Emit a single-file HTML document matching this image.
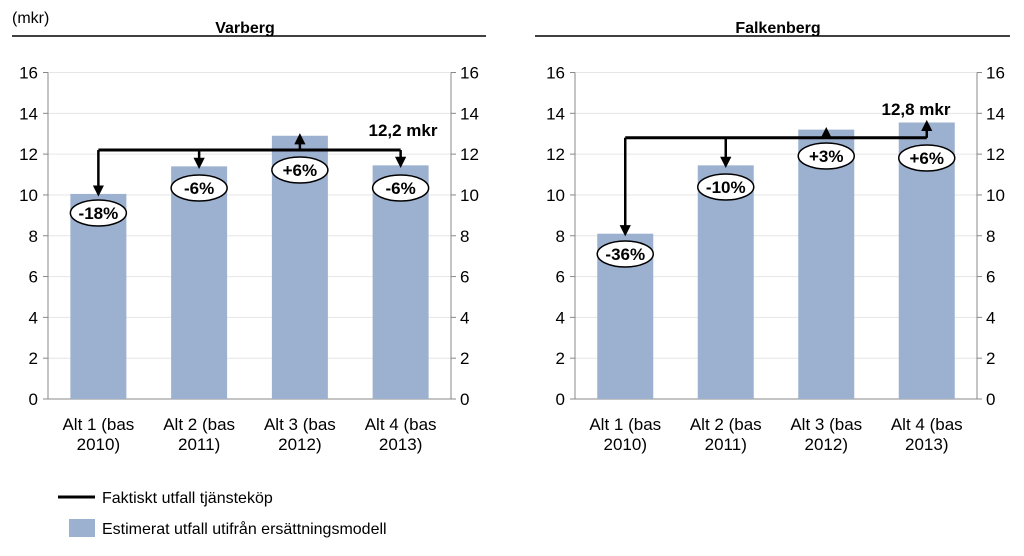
<!DOCTYPE html>
<html><head><meta charset="utf-8"><style>
body{margin:0;background:#fff;width:1024px;height:551px;overflow:hidden}
svg text{font-family:"Liberation Sans",Arial,sans-serif}
</style></head><body>
<svg id="c" width="1024" height="551" xmlns="http://www.w3.org/2000/svg">
<defs><marker id="ah" viewBox="0 0 10 10" refX="5" refY="5" markerWidth="4.5" markerHeight="4.5" orient="auto"><path d="M0,0L10,5L0,10z" fill="#000"/></marker></defs>
<text x="12" y="23" font-size="16">(mkr)</text>
<g id="legend">
<line x1="58" y1="497" x2="95" y2="497" stroke="#000" stroke-width="3"/>
<text x="102" y="503" font-size="16">Faktiskt utfall tjänsteköp</text>
<rect x="69" y="519" width="26" height="18" fill="#9cb0cf"/>
<text x="102" y="534" font-size="16">Estimerat utfall utifrån ersättningsmodell</text>
</g>
</svg>
<script>
const categories=[["Alt 1 (bas","2010)"],["Alt 2 (bas","2011)"],["Alt 3 (bas","2012)"],["Alt 4 (bas","2013)"]];
const ticks=[0,2,4,6,8,10,12,14,16];
const varbergValues=[10.05,11.4,12.9,11.45];
const varbergActual=12.2;
const varbergLabels=["-18%","-6%","+6%","-6%"];
const falkValues=[8.1,11.45,13.2,13.55];
const falkActual=12.8;
const falkLabels=["-36%","-10%","+3%","+6%"];
const NS="http://www.w3.org/2000/svg";
const svg=document.getElementById('c');
function mk(t,a,p){const e=document.createElementNS(NS,t);for(const k in a)e.setAttribute(k,a[k]);(p||svg).appendChild(e);return e;}
function chart(name,x0,x1,lineX0,lineX1,titleX,values,actual,labels,actualLabel,alX,alY,labelYs){
  const y0=399,yTop=72.5,max=16;
  const y=v=>y0-(v/max)*(y0-yTop);
  const bw=(x1-x0)/values.length;
  const cx=i=>x0+bw*(i+0.5);
  const g=mk('g',{});
  
  
  let e=mk('line',{x1:lineX0,x2:lineX1,y1:36,y2:36,stroke:'#000','stroke-width':1.5},g);
  
  e=mk('text',{x:titleX,y:33,'font-size':16,'font-weight':'bold','text-anchor':'middle'},g);e.textContent=name==='varberg'?'Varberg':'Falkenberg';
  
  ticks.forEach(t=>{
    const gl=mk('line',{x1:x0,x2:x1,y1:y(t),y2:y(t),stroke:'#e6e6e6'},g);
    
    const tl=mk('text',{x:x0-10,y:y(t)+6,'font-size':17,'text-anchor':'end'},g);tl.textContent=t;
    
    const tr=mk('text',{x:x1+9,y:y(t)+6,'font-size':17},g);tr.textContent=t;
    
    mk('line',{x1:x0-5,x2:x0,y1:y(t),y2:y(t),stroke:'#888'},g);
    mk('line',{x1:x1,x2:x1+5,y1:y(t),y2:y(t),stroke:'#888'},g);
  });
  mk('line',{x1:x0,x2:x0,y1:yTop,y2:y0,stroke:'#888'},g);
  mk('line',{x1:x1,x2:x1,y1:yTop,y2:y0,stroke:'#888'},g);
  mk('line',{x1:x0,x2:x1,y1:y0,y2:y0,stroke:'#888'},g);
  values.forEach((v,i)=>{
    const b=mk('rect',{x:cx(i)-28,y:y(v),width:56,height:y0-y(v),fill:'#9cb0cf'},g);
    
    categories[i].forEach((s,j)=>{const t=mk('text',{x:cx(i),y:430+j*20,'font-size':17,'text-anchor':'middle'},g);t.textContent=s;
      });
  });
  const ya=y(actual);
  e=mk('line',{x1:cx(0),x2:cx(3),y1:ya,y2:ya,stroke:'#000','stroke-width':3},g);
  
  values.forEach((v,i)=>{
    const dir=v>actual?-1:1;
    const a=mk('line',{x1:cx(i),x2:cx(i),y1:ya,y2:y(v)-dir*3,stroke:'#000','stroke-width':2.5,'marker-end':'url(#ah)'},g);
    
    const ly=labelYs[i];
    const el=mk('ellipse',{cx:cx(i),cy:ly,rx:28,ry:13,fill:'#fff',stroke:'#000','stroke-width':1.5},g);
    
    const t=mk('text',{x:cx(i),y:ly+6,'font-size':17,'font-weight':'bold','text-anchor':'middle'},g);t.textContent=labels[i];
    
  });
  e=mk('text',{x:alX,y:alY,'font-size':17,'font-weight':'bold','text-anchor':'middle'},g);e.textContent=actualLabel;
  
}
chart('varberg',48,451,12,486,245,varbergValues,varbergActual,varbergLabels,'12,2 mkr',403,136,[213,188,170,188]);
chart('falkenberg',575,977,535,1010,778,falkValues,falkActual,falkLabels,'12,8 mkr',916,115,[254,187,156,158]);
</script>
</body></html>
